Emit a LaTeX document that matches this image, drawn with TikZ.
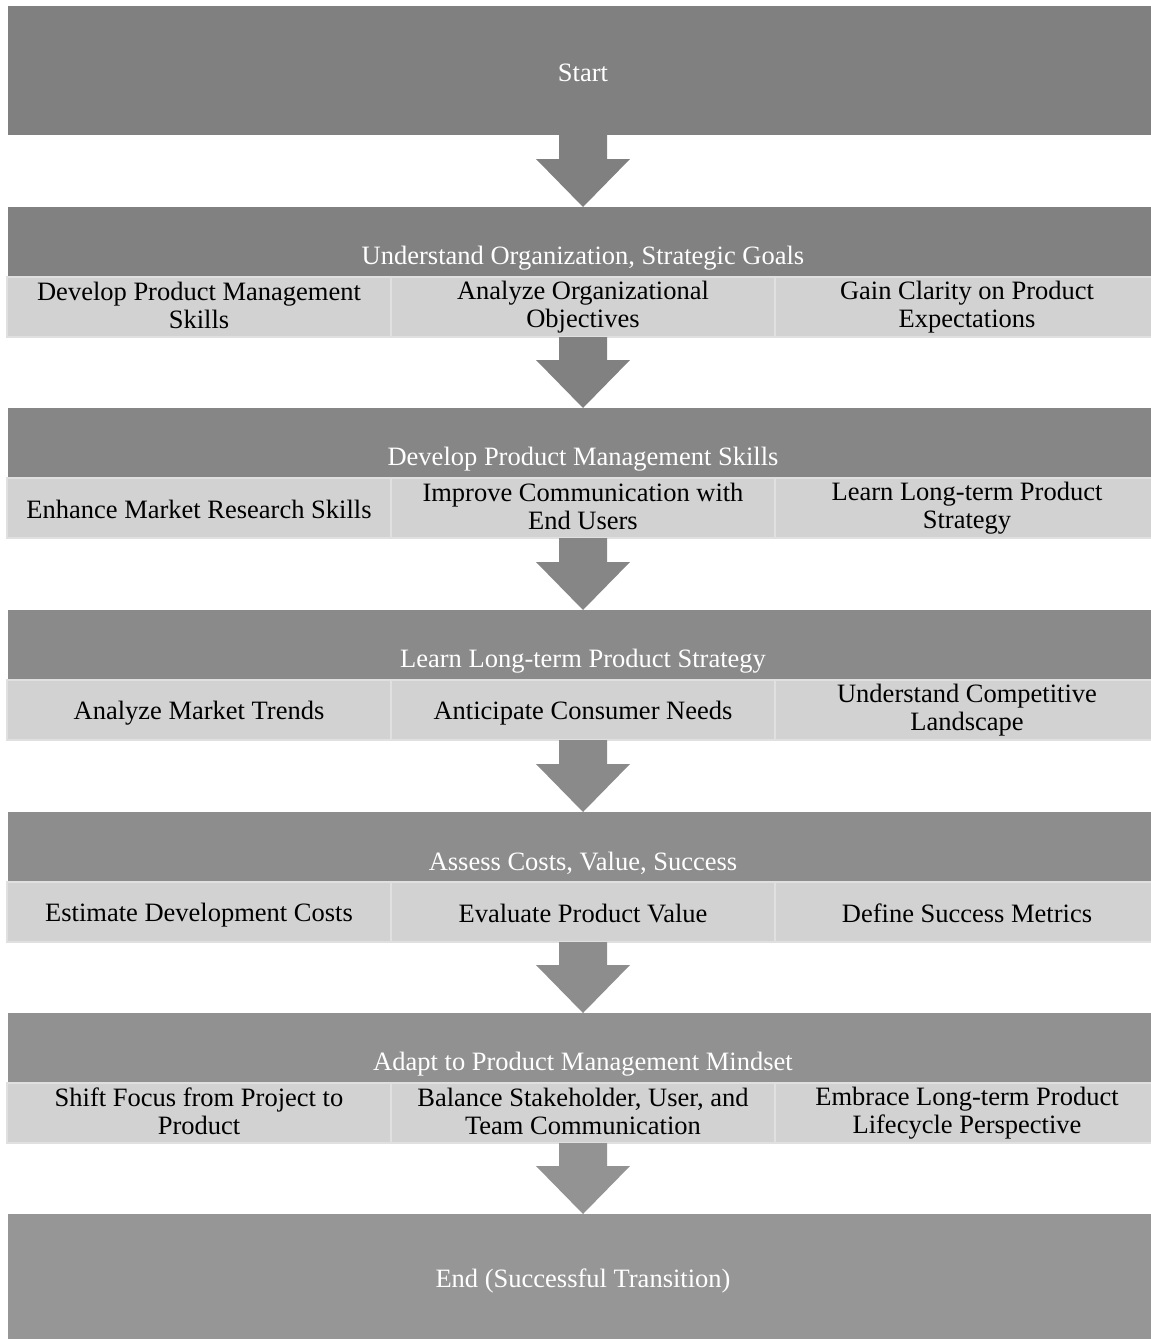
\documentclass[tikz,border=0pt]{standalone}
\usepackage{fontspec}
\setmainfont{Liberation Serif}
\usetikzlibrary{calc}
\definecolor{gA}{HTML}{808080}
\definecolor{gB}{HTML}{818181}
\definecolor{gC}{HTML}{868686}
\definecolor{gD}{HTML}{8A8A8A}
\definecolor{gE}{HTML}{8D8D8D}
\definecolor{gF}{HTML}{919191}
\definecolor{gG}{HTML}{969696}
\definecolor{cellfill}{HTML}{D2D2D2}
\definecolor{cellline}{HTML}{E0E0E0}
\newcommand\topstrutx{\rule{0pt}{24.5pt}}
\newcommand\botstrutx{\rule[-3.5pt]{0pt}{3.5pt}}
\tikzset{
  x=1pt, y=-1pt,
  txt/.style={font=\fontsize{26.5}{28}\selectfont, execute at begin node=\topstrutx, execute at end node=\botstrutx},
  bigbox/.style={fill=#1, minimum width=1150pt, minimum height=129pt, inner sep=0pt, outer sep=0pt, anchor=north, txt, text=white},
  hdr/.style={fill=#1, minimum width=1150pt, minimum height=69pt, inner sep=0pt, outer sep=0pt, anchor=north},
  hdrtext/.style={txt, text=white, inner sep=0pt},
  cell/.style={fill=cellfill, draw=cellline, line width=2pt, minimum width=384pt, minimum height=60pt, inner sep=0pt, outer sep=0pt, anchor=north west, txt, text=black, align=center},
}
\newcommand\flowarrow[3]{%
  \fill[#3] ($(#1.south)+(-24,0)$) -- ($(#2.north)+(-24,-48)$) -- ($(#2.north)+(-47,-48)$) -- (#2.north)
    -- ($(#2.north)+(47,-48)$) -- ($(#2.north)+(24,-48)$) -- ($(#1.south)+(24,0)$) -- cycle;}
\begin{document}
\begin{tikzpicture}
\useasboundingbox (0,0) rectangle (1151,1339);
\clip (0,0) rectangle (1151,1339);

% Start
\node[bigbox=gA] (start) at (583,6) {Start};

% Stage 1 (T=207)
\node[hdr=gB] (h1) at (583,207) {};
\node[hdrtext] (h1t) at ($(h1.south)+(0,-21)$) {Understand Organization, Strategic Goals};
\node[cell] (c1a) at (7,277) {Develop Product Management\\Skills};
\node[cell] (c1b) at (391,277) {Analyze Organizational\\Objectives};
\node[cell] (c1c) at (775,277) {Gain Clarity on Product\\Expectations};

% Stage 2 (T=408)
\node[hdr=gC] (h2) at (583,408) {};
\node[hdrtext] (h2t) at ($(h2.south)+(0,-21)$) {Develop Product Management Skills};
\node[cell] (c2a) at (7,478) {Enhance Market Research Skills};
\node[cell] (c2b) at (391,478) {Improve Communication with\\End Users};
\node[cell] (c2c) at (775,478) {Learn Long-term Product\\Strategy};

% Stage 3 (T=610)
\node[hdr=gD] (h3) at (583,610) {};
\node[hdrtext] (h3t) at ($(h3.south)+(0,-21)$) {Learn Long-term Product Strategy};
\node[cell] (c3a) at (7,680) {Analyze Market Trends};
\node[cell] (c3b) at (391,680) {Anticipate Consumer Needs};
\node[cell] (c3c) at (775,680) {Understand Competitive\\Landscape};

% Stage 4 (T=812)
\node[hdr=gE] (h4) at (583,812) {};
\node[hdrtext] (h4t) at ($(h4.south)+(0,-21)$) {Assess Costs, Value, Success};
\node[cell] (c4a) at (7,882) {Estimate Development Costs};
\node[cell] (c4b) at (391,882) {Evaluate Product Value};
\node[cell] (c4c) at (775,882) {Define Success Metrics};

% Stage 5 (T=1013)
\node[hdr=gF] (h5) at (583,1013) {};
\node[hdrtext] (h5t) at ($(h5.south)+(0,-21)$) {Adapt to Product Management Mindset};
\node[cell] (c5a) at (7,1083) {Shift Focus from Project to\\Product};
\node[cell] (c5b) at (391,1083) {Balance Stakeholder, User, and\\Team Communication};
\node[cell] (c5c) at (775,1083) {Embrace Long-term Product\\Lifecycle Perspective};

% End
\node[bigbox=gG] (end) at (583,1214) {End (Successful Transition)};

% Arrows
\flowarrow{start}{h1}{gA}
\flowarrow{c1b}{h2}{gB}
\flowarrow{c2b}{h3}{gC}
\flowarrow{c3b}{h4}{gD}
\flowarrow{c4b}{h5}{gE}
\flowarrow{c5b}{end}{gF!60!gG}
\end{tikzpicture}
\end{document}
